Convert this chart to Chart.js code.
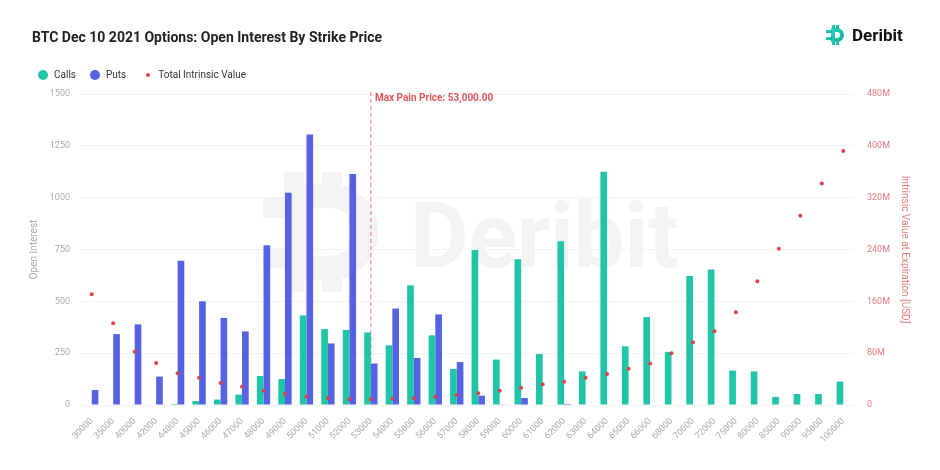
<!DOCTYPE html>
<html>
<head>
<meta charset="utf-8">
<script src="https://cdn.jsdelivr.net/npm/chart.js@4/dist/chart.umd.min.js"></script>
<style>
  body { margin: 0; background: #fff; font-family: Roboto, sans-serif; }
  #wrap { position: relative; width: 940px; height: 470px; }
  #title { position: absolute; left: 32px; top: 29px; font-size: 14px; font-weight: bold; color: #222; }
  #legend { position: absolute; left: 38px; top: 69px; font-size: 10px; color: #333; display: flex; align-items: center; }
  #legend span.item { display: flex; align-items: center; margin-right: 14px; }
  #legend i { display: inline-block; border-radius: 50%; margin-right: 6px; }
  #logo { position: absolute; left: 826px; top: 25px; display: flex; align-items: center; }
  #logo b { font-size: 17px; color: #111; margin-left: 4px; }
</style>
</head>
<body>
<div id="wrap">
  <canvas id="chart" width="940" height="470"></canvas>
  <div id="title">BTC Dec 10 2021 Options: Open Interest By Strike Price</div>
  <div id="legend">
    <span class="item"><i style="width:10px;height:10px;background:#1fc5a6"></i>Calls</span>
    <span class="item"><i style="width:10px;height:10px;background:#5661e3"></i>Puts</span>
    <span class="item"><i style="width:4px;height:4px;background:#d9434b;margin-left:6px;margin-right:8px"></i>Total Intrinsic Value</span>
  </div>
  <div id="logo">
    <svg width="22" height="20" viewBox="0 0 22 20">
      <defs><linearGradient id="g" x1="0" y1="0" x2="1" y2="1"><stop offset="0" stop-color="#2fd8c0"/><stop offset="1" stop-color="#11a99a"/></linearGradient></defs>
      <path d="M5 3 H11 A7 7 0 0 1 11 17 H5 Z M9 7 V13 H11 A3 3 0 0 0 11 7 Z" fill="url(#g)" fill-rule="evenodd"/>
      <rect x="0" y="5" width="6" height="3" fill="url(#g)"/>
      <rect x="0" y="12" width="6" height="3" fill="url(#g)"/>
      <rect x="6" y="0" width="3" height="4" fill="url(#g)"/>
      <rect x="10" y="0" width="3" height="4" fill="url(#g)"/>
      <rect x="6" y="16" width="3" height="4" fill="url(#g)"/>
      <rect x="10" y="16" width="3" height="4" fill="url(#g)"/>
    </svg>
    <b>Deribit</b>
  </div>
</div>
<script>
// strikes
const strikes = ['30000','35000','40000','42000','44000','45000','46000','47000','48000','49000','50000',
  '51000','52000','53000','54000','55000','56000','57000','58000','59000','60000','61000','62000','63000',
  '64000','65000','66000','68000','70000','72000','75000','80000','85000','90000','95000','100000'];

// open interest
const calls = [0, 0, 0, 0, 5, 19, 26, 50, 140, 125, 432,
  366, 362, 350, 288, 577, 336, 174, 748, 219, 703, 246, 790, 162,
  1125, 283, 424, 256, 622, 653, 166, 162, 39, 53, 53, 113];
const puts = [72, 342, 389, 137, 696, 500, 420, 355, 770, 1024, 1305,
  297, 1114, 200, 465, 227, 437, 207, 45, 3, 34, 0, 5, 0,
  0, 0, 0, 0, 0, 0, 0, 0, 0, 0, 0, 0];

// total intrinsic value (USD)
const intrinsic = [171e6, 126e6, 82e6, 65e6, 49e6, 42e6, 34e6, 28e6, 22e6, 17.5e6, 13e6,
  10.3e6, 9.3e6, 8.8e6, 9.5e6, 10.5e6, 12.9e6, 15.4e6, 18e6, 22e6, 26.7e6, 32e6, 36e6, 42e6,
  48e6, 56e6, 64e6, 80e6, 97e6, 114e6, 143e6, 191e6, 241e6, 292e6, 342e6, 392e6];

const maxPain = '53000';

// marca de agua
const watermark = {
  id: 'watermark',
  beforeDatasetsDraw(chart) {
    const c = chart.ctx;
    c.save();
    c.fillStyle = '#f3f3f3';
    c.strokeStyle = '#f3f3f3';
    c.font = 'bold 90px Roboto';
    c.textBaseline = 'alphabetic';
    c.fillText('Deribit', 410, 267);
    // logo
    c.lineWidth = 24;
    c.beginPath();
    c.moveTo(296, 196);
    c.lineTo(330, 196);
    c.arc(330, 232, 36, -Math.PI / 2, Math.PI / 2);
    c.lineTo(296, 268);
    c.closePath();
    c.stroke();
    c.fillRect(263, 198, 30, 20);
    c.fillRect(263, 248, 30, 20);
    c.fillRect(284, 172, 20, 20);
    c.fillRect(322, 172, 20, 20);
    c.fillRect(284, 272, 20, 20);
    c.fillRect(322, 272, 20, 20);
    c.restore();
  }
};

// línea de max pain
const maxPainLine = {
  id: 'maxPainLine',
  beforeDatasetsDraw(chart) {
    const c = chart.ctx;
    const x = chart.scales.x.getPixelForValue(strikes.indexOf(maxPain));
    const area = chart.chartArea;
    c.save();
    c.strokeStyle = '#e07a7e';
    c.lineWidth = 1;
    c.setLineDash([4, 3]);
    c.beginPath();
    c.moveTo(x, area.top - 2);
    c.lineTo(x, area.bottom);
    c.stroke();
    c.setLineDash([]);
    c.fillStyle = '#e0575d';
    c.font = 'bold 10px Roboto';
    c.textBaseline = 'middle';
    c.fillText('Max Pain Price: 53,000.00', x + 4, area.top + 4);
    c.restore();
  }
};

new Chart(document.getElementById('chart'), {
  data: {
    labels: strikes,
    datasets: [
      { type: 'line', label: 'Total Intrinsic Value', data: intrinsic, yAxisID: 'y1', showLine: false,
        pointRadius: 2, pointHoverRadius: 2, pointBackgroundColor: '#d9434b', pointBorderWidth: 0, order: 0 },
      { type: 'bar', label: 'Calls', data: calls, yAxisID: 'y', backgroundColor: '#1fc5a6',
        barPercentage: 1, categoryPercentage: 0.62, order: 1 },
      { type: 'bar', label: 'Puts', data: puts, yAxisID: 'y', backgroundColor: '#5661e3',
        barPercentage: 1, categoryPercentage: 0.62, order: 1 }
    ]
  },
  options: {
    responsive: false,
    animation: false,
    layout: { padding: { left: 28, right: 30, top: 94, bottom: 20 } },
    plugins: { legend: { display: false }, tooltip: { enabled: false } },
    scales: {
      x: {
        grid: { display: false },
        border: { display: false },
        ticks: { color: '#aaa', font: { size: 9, family: 'Roboto' }, minRotation: 45, maxRotation: 45, padding: 3 },
        afterFit: s => { s.height = 45; }
      },
      y: {
        position: 'left',
        min: 0, max: 1500,
        ticks: { stepSize: 250, color: '#aaa', font: { size: 9, family: 'Roboto' }, padding: 11,
          callback: v => String(v) },
        grid: { color: '#f3f3f3', drawTicks: false },
        border: { display: false },
        title: { display: true, text: 'Open Interest', color: '#aaa', font: { size: 10, family: 'Roboto' }, padding: 0 },
        afterFit: s => { s.width = 53; }
      },
      y1: {
        position: 'right',
        min: 0, max: 480e6,
        ticks: { stepSize: 80e6, color: '#e27b7f', font: { size: 9, family: 'Roboto' }, padding: 13,
          callback: v => v === 0 ? '0' : (v / 1e6) + 'M' },
        grid: { display: false, drawTicks: false },
        border: { display: false },
        title: { display: true, text: 'Intrinsic Value at Expiration [USD]', color: '#e27b7f', font: { size: 10, family: 'Roboto' }, padding: 0 },
        afterFit: s => { s.width = 56; }
      }
    }
  },
  plugins: [watermark, maxPainLine]
});
</script>
</body>
</html>
